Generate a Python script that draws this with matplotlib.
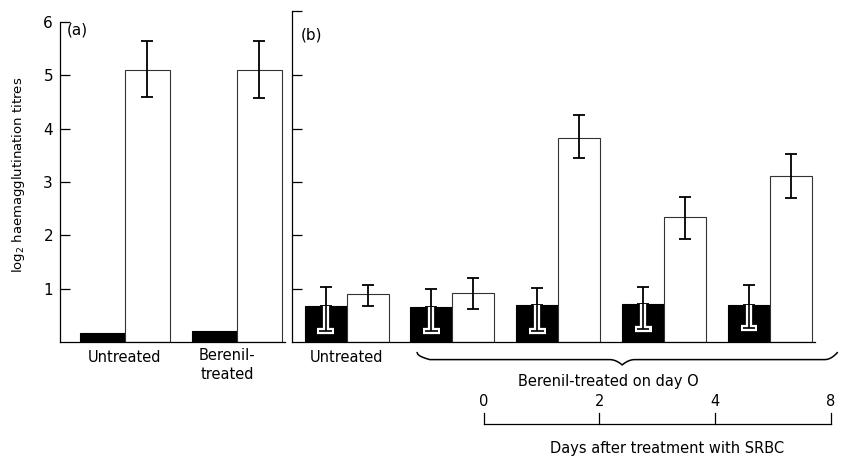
import matplotlib.pyplot as plt
import numpy as np

# panel (a)
a_groups = ['Untreated', 'Berenil-\ntreated']
a_black = [0.17, 0.20]
a_white = [5.10, 5.10]
a_white_hi = [5.65, 5.65]
a_white_lo = [4.60, 4.58]

# panel (b)
b_groups = ['Untreated', 'day 0', 'day 2', 'day 4', 'day 8']
b_black = [0.68, 0.66, 0.69, 0.71, 0.69]
b_black_hi = [1.03, 1.00, 1.01, 1.03, 1.07]
b_black_lo = [0.20, 0.20, 0.21, 0.24, 0.26]
b_white = [0.90, 0.92, 3.83, 2.35, 3.11]
b_white_hi = [1.07, 1.20, 4.26, 2.72, 3.53]
b_white_lo = [0.68, 0.62, 3.45, 1.93, 2.70]
day_labels = ['0', '2', '4', '8']

plt.rcParams['font.family'] = ['DejaVu Sans']
W, H = 844, 459
fig = plt.figure(figsize=(W / 100, H / 100), dpi=100)
bot = (H - 342) / H
hgt = 6.25 * 53.33 / H
ax1 = fig.add_axes([60 / W, bot, 225 / W, hgt])
ax2 = fig.add_axes([292 / W, bot, 523 / W, hgt])


def black_err(ax, x, val, hi, lo):
    # part above the bar in black
    ax.errorbar(x, val, yerr=[[0] * len(val), np.array(hi) - np.array(val)],
                fmt='none', ecolor='black', elinewidth=1.3, capsize=4, capthick=1.3)
    # part inside the black bar: white with a black core, cap only at the bottom
    ax.vlines(x, lo, val, color='white', lw=4.5, zorder=3)
    ax.hlines(lo, np.array(x) - 0.2, np.array(x) + 0.2, color='white', lw=4.5, zorder=3)
    ax.vlines(x, lo, val, color='black', lw=1.2, zorder=4)
    ax.hlines(lo, np.array(x) - 0.15, np.array(x) + 0.15, color='black', lw=1.2, zorder=4)


def white_err(ax, x, val, hi, lo):
    ax.errorbar(x, val, yerr=[np.array(val) - np.array(lo), np.array(hi) - np.array(val)],
                fmt='none', ecolor='black', elinewidth=1.3, capsize=4, capthick=1.3)


# ---- panel (a)
xa = np.array([1.44, 3.93])
ax1.bar(xa - 0.5, a_black, width=1.0, color='black', edgecolor='black', linewidth=0.8)
ax1.bar(xa + 0.5, a_white, width=1.0, color='white', edgecolor='#333333', linewidth=0.8)
white_err(ax1, xa + 0.5, a_white, a_white_hi, a_white_lo)
ax1.set_xlim(0, 5)
ax1.set_ylim(0, 6.25)
ax1.set_yticks([1, 2, 3, 4, 5, 6])
ax1.set_yticklabels(['1', '2', '3', '4', '5', '6'])
ax1.set_xticks([])
ax1.tick_params(axis='y', direction='in', length=7, labelsize=11, pad=5, width=0.9)
ax1.spines['left'].set_bounds(0, 6)
for s in ['top', 'right']:
    ax1.spines[s].set_visible(False)
for s in ['left', 'bottom']:
    ax1.spines[s].set_linewidth(0.9)
ax1.text(0.15, 5.85, '(a)', fontsize=11, va='center')
ax1.text(xa[0], -0.3, a_groups[0], fontsize=10.5, ha='center', va='center')
ax1.text(xa[1] - 0.22, -0.43, a_groups[1], fontsize=10.5, ha='center', va='center',
         linespacing=1.4)
ax1.set_ylabel('log$_2$ haemagglutination titres', fontsize=9.5, labelpad=12)

# ---- panel (b)
xb = 1.3 + np.arange(len(b_groups)) * 2.52
ax2.bar(xb - 0.5, b_black, width=1.0, color='black', edgecolor='black', linewidth=0.8)
ax2.bar(xb + 0.5, b_white, width=1.0, color='white', edgecolor='#333333', linewidth=0.8)
black_err(ax2, xb - 0.5, b_black, b_black_hi, b_black_lo)
white_err(ax2, xb + 0.5, b_white, b_white_hi, b_white_lo)
ax2.set_xlim(0, 12.45)
ax2.set_ylim(0, 6.25)
ax2.set_yticks([1, 2, 3, 4, 5, 6.2])
ax2.set_yticklabels([])
ax2.set_xticks([])
ax2.tick_params(axis='y', direction='in', length=7, width=0.9)
ax2.spines['left'].set_bounds(0, 6.2)
for s in ['top', 'right']:
    ax2.spines[s].set_visible(False)
for s in ['left', 'bottom']:
    ax2.spines[s].set_linewidth(0.9)
ax2.text(0.2, 5.75, '(b)', fontsize=11, va='center')
ax2.text(xb[0], -0.3, b_groups[0], fontsize=10.5, ha='center', va='center')

# brace under the Berenil-treated groups
x0, x1, xm = 2.98, 12.98, 7.86
t = np.linspace(0, 1, 20)
left_end = np.column_stack([x0 + 0.3 * t, -0.2 - 0.13 * np.sqrt(t)])
mid_l = np.column_stack([xm - 0.3 + 0.3 * t, -0.33 - 0.1 * t ** 2])
mid_r = np.column_stack([xm + 0.3 * t, -0.43 + 0.1 * (1 - (1 - t) ** 2)])
right_end = np.column_stack([x1 - 0.3 + 0.3 * t, -0.33 + 0.13 * t ** 2])
brace = np.vstack([left_end, mid_l, mid_r, right_end])
ax2.plot(brace[:, 0], brace[:, 1], color='black', lw=1.1, clip_on=False)
ax2.text(7.52, -0.75, 'Berenil-treated on day O', fontsize=10.5, ha='center', va='center')

# days axis
xd = 4.57 + np.arange(len(day_labels)) * 2.75
ax2.plot([xd[0], xd[-1]], [-1.54, -1.54], color='black', lw=0.9, clip_on=False)
for x, lab in zip(xd, day_labels):
    ax2.plot([x, x], [-1.54, -1.33], color='black', lw=0.9, clip_on=False)
    ax2.text(x, -1.12, lab, fontsize=10.5, ha='center', va='center')
ax2.text(8.93, -1.99, 'Days after treatment with SRBC', fontsize=10.5,
         ha='center', va='center')

fig.savefig('out.png', dpi=100)
